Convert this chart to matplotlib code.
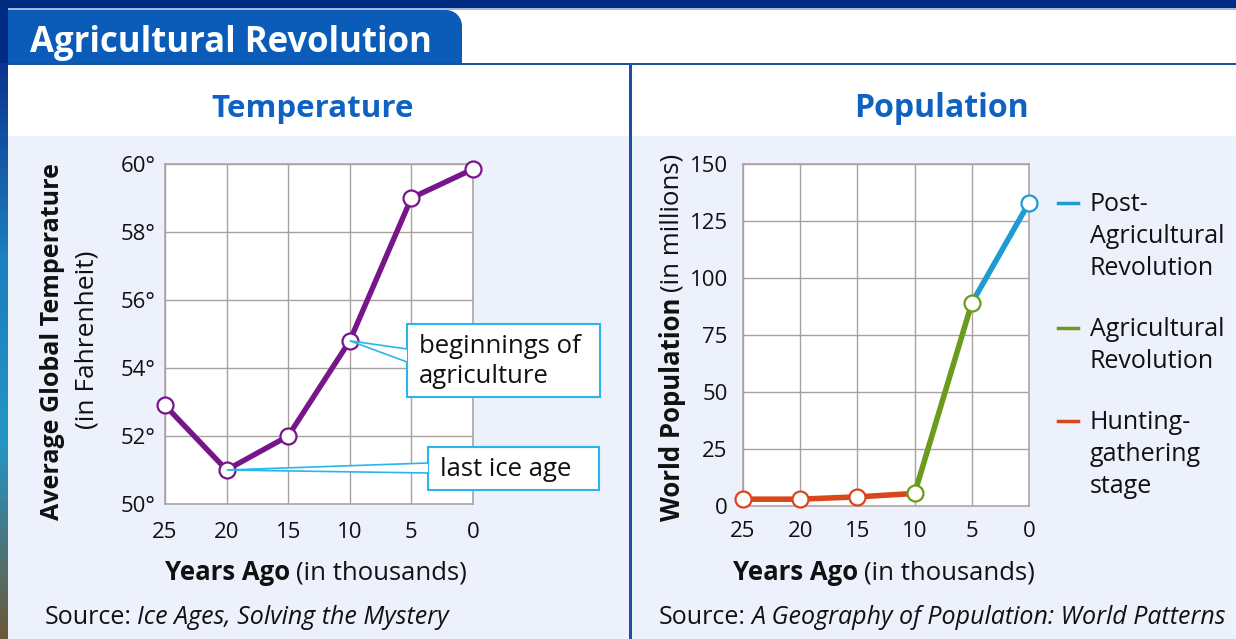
import matplotlib
matplotlib.use('Agg')
import matplotlib.pyplot as plt
import numpy as np
from matplotlib.patches import Rectangle, Polygon
from matplotlib.lines import Line2D
from matplotlib.colors import LinearSegmentedColormap

plt.rcParams['font.family'] = ['Open Sans', 'DejaVu Sans']

# 数据
years = [25, 20, 15, 10, 5, 0]
temperature = [52.9, 51.0, 52.0, 54.8, 59.0, 59.85]
temp_ticks = [50, 52, 54, 56, 58, 60]
temp_tick_labels = ['50°', '52°', '54°', '56°', '58°', '60°']

population = [3, 3, 4, 5.5, 89, 133]
pop_ticks = [0, 25, 50, 75, 100, 125, 150]
stage_names = ['Hunting-\ngathering\nstage', 'Agricultural\nRevolution', 'Post-\nAgricultural\nRevolution']
stage_colors = ['#d8461b', '#6b9b1c', '#1e9bd0']
stage_start = [0, 3, 4]   # 每段起点的索引
stage_end = [3, 4, 5]
point_stage = [0, 0, 0, 1, 1, 2]  # 每个点的圆圈颜色

year_ticks = [25, 20, 15, 10, 5, 0]

W, H = 1236, 639
fig = plt.figure(figsize=(W / 100, H / 100), dpi=100)
fig.patch.set_facecolor('#002b82')

NAVY = '#1d4f9d'
HEAD = '#0f62c2'
LIGHT = '#edf1fc'
GRID = '#a9a0a0'
CYAN = '#2ab6ea'
INK = '#111111'


def fx(x):
    return x / W


def fy(y):
    return 1 - y / H


def rect(x0, y0, x1, y1, color, z=-10):
    fig.add_artist(Rectangle((fx(x0), fy(y1)), (x1 - x0) / W, (y1 - y0) / H,
                             transform=fig.transFigure, facecolor=color,
                             edgecolor='none', zorder=z))


# 背景和面板
rect(8, 8, W, 10, '#a9b7d8')
rect(8, 10, W, 63, 'white')
# 标签页（右上圆角）
r = 16
theta = np.linspace(np.pi / 2, 0, 12)
tab_pts = [(8, 63), (8, 10)] + [(462 - r + r * np.cos(t), 10 + r - r * np.sin(t)) for t in theta] + [(462, 63)]
fig.add_artist(Polygon([(fx(a), fy(b)) for a, b in tab_pts], closed=True,
                       transform=fig.transFigure, facecolor='#0a5cb8',
                       edgecolor='none', zorder=-9))
rect(8, 63, W, 65, NAVY)
rect(8, 65, 629, 136, 'white')
rect(8, 136, 629, H, LIGHT)
rect(629, 65, 632, H, NAVY)
rect(632, 65, W, 136, 'white')
rect(632, 136, W, H, LIGHT)

# 左侧边缘渐变
ax_strip = fig.add_axes([0, 0, fx(8), 1 - 63 / H])
grad = np.linspace(0, 1, 100).reshape(-1, 1)
strip_cmap = LinearSegmentedColormap.from_list('s', ['#0a3590', '#1c7fbf', '#2595c4', '#6b5a3a'])
ax_strip.imshow(grad, aspect='auto', cmap=strip_cmap, extent=[0, 1, 0, 1], origin='upper')
ax_strip.axis('off')

# 标题
fig.text(fx(30), fy(52), 'Agricultural Revolution', color='white', fontsize=25,
         fontweight='bold', ha='left', va='baseline')
fig.text(fx(313), fy(117), 'Temperature', color=HEAD, fontsize=22.5,
         fontweight='bold', ha='center', va='baseline')
fig.text(fx(941), fy(117), 'Population', color=HEAD, fontsize=23,
         fontweight='bold', ha='center', va='baseline')


def style_axes(ax, ypad, xpad):
    ax.set_facecolor('white')
    for s in ax.spines.values():
        s.set_color(GRID)
        s.set_linewidth(1.1)
    ax.grid(True, color=GRID, linewidth=1.0)
    ax.set_axisbelow(True)
    ax.tick_params(axis='both', length=0, labelsize=16, colors=INK)
    ax.tick_params(axis='y', pad=ypad)
    ax.tick_params(axis='x', pad=xpad)


# 温度图
ax1 = fig.add_axes([fx(165), fy(504), (473 - 165) / W, (504 - 164) / H])
ax1.plot(years, temperature, color='#76168a', linewidth=3.9, marker='o',
         markersize=11.5, markerfacecolor='white', markeredgecolor='#76168a',
         markeredgewidth=1.6, clip_on=False, zorder=3)
ax1.set_xlim(25, 0)
ax1.set_ylim(50, 60)
ax1.set_xticks(year_ticks)
ax1.set_yticks(temp_ticks)
ax1.set_yticklabels(temp_tick_labels)
style_axes(ax1, 7, 13)

# 人口图
ax2 = fig.add_axes([fx(743), fy(506), (1029 - 743) / W, (506 - 164) / H])
for k in range(len(stage_names)):
    i0, i1 = stage_start[k], stage_end[k]
    ax2.plot(years[i0:i1 + 1], population[i0:i1 + 1], color=stage_colors[k],
             linewidth=4.0, solid_capstyle='butt', clip_on=False, zorder=2)
for i in range(len(years)):
    c = stage_colors[point_stage[i]]
    ax2.plot(years[i], population[i], marker='o', markersize=11.5,
             markerfacecolor='white', markeredgecolor=c, markeredgewidth=1.6,
             clip_on=False, zorder=3)
ax2.set_xlim(25, 0)
ax2.set_ylim(0, 150)
ax2.set_xticks(year_ticks)
ax2.set_yticks(pop_ticks)
style_axes(ax2, 11, 11)

# 图例
legend_y = [203, 328, 421]
for k, yy in zip([2, 1, 0], legend_y):
    fig.add_artist(Line2D([fx(1058), fx(1078)], [fy(yy), fy(yy)], color=stage_colors[k],
                          linewidth=2.5, transform=fig.transFigure))
    fig.text(fx(1090), fy(yy - 11), stage_names[k], fontsize=18, ha='left',
             va='top', linespacing=1.36, color=INK)

# 混合字体的文字
renderer = fig.canvas.get_renderer()


def runs(x0, y0, parts, size, rotation=0):
    # parts: (文字, 字重, 字形)，从 (x0, y0) 依次排开，像素坐标（左上原点）
    pos = x0 if rotation == 0 else y0
    for s, w, st in parts:
        if rotation == 0:
            t = fig.text(fx(pos), fy(y0), s, fontsize=size, fontweight=w, fontstyle=st,
                         ha='left', va='baseline', color=INK)
            pos += t.get_window_extent(renderer).width + size * 0.3
        else:
            t = fig.text(fx(x0), fy(pos), s, fontsize=size, fontweight=w, fontstyle=st,
                         ha='left', va='center', rotation=90, rotation_mode='anchor',
                         color=INK)
            pos -= t.get_window_extent(renderer).height + size * 0.3


runs(165, 580, [('Years Ago', 'bold', 'normal'), ('(in thousands)', 'normal', 'normal')], 18.5)
runs(733, 580, [('Years Ago', 'bold', 'normal'), ('(in thousands)', 'normal', 'normal')], 18.5)
runs(45, 624, [('Source:', 'normal', 'normal'), ('Ice Ages, Solving the Mystery', 'normal', 'italic')], 18)
runs(659, 624, [('Source:', 'normal', 'normal'), ('A Geography of Population: World Patterns', 'normal', 'italic')], 18)
runs(672, 521, [('World Population', 'bold', 'normal'), ('(in millions)', 'normal', 'normal')], 18.5, rotation=90)

fig.text(fx(53), fy(341), 'Average Global Temperature', fontsize=18, fontweight='bold',
         rotation=90, ha='center', va='center', rotation_mode='anchor', color=INK)
fig.text(fx(87), fy(340), '(in Fahrenheit)', fontsize=19, rotation=90, ha='center',
         va='center', rotation_mode='anchor', color=INK)


# 注释框
def callout(ax, xd, yd, box, text, base):
    x0, y0, x1, y1 = box
    rect(x0, y0, x1, y1, 'white', z=5)
    fig.add_artist(Rectangle((fx(x0), fy(y1)), (x1 - x0) / W, (y1 - y0) / H,
                             transform=fig.transFigure, facecolor='none',
                             edgecolor=CYAN, linewidth=1.5, zorder=6))
    px, py = ax.transData.transform((xd, yd))
    tip = (px / W, py / H)
    fig.add_artist(Polygon([(fx(x0), fy(base[0])), tip, (fx(x0), fy(base[1]))], closed=False,
                           transform=fig.transFigure, facecolor='white',
                           edgecolor=CYAN, linewidth=1.2, zorder=7))
    fig.text(fx(x0 + 12), fy((y0 + y1) / 2 + 1), text, fontsize=18.5, ha='left', va='center',
             linespacing=1.3, color=INK, zorder=8)


callout(ax1, years[3], temperature[3], (407, 324, 600, 397), 'beginnings of\nagriculture', (349, 362))
callout(ax1, years[1], temperature[1], (428, 447, 599, 490), 'last ice age', (463, 473))

fig.savefig('out.png', dpi=100, facecolor=fig.get_facecolor())
